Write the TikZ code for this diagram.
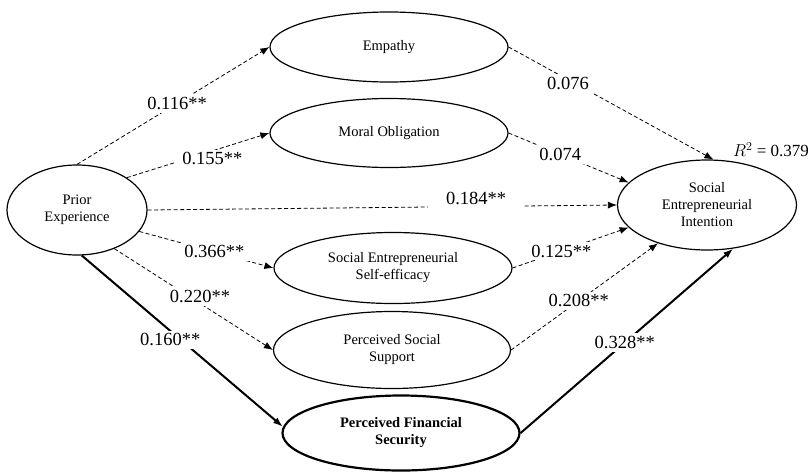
\documentclass[tikz,border=0pt]{standalone}
\usepackage{fontspec}
\setmainfont{Liberation Serif}
\usetikzlibrary{shapes.geometric, arrows.meta}

\begin{document}
\begin{tikzpicture}[x = 1pt, y = -1pt,
  construct/.style = {draw, ellipse, line width = 1.2pt, inner sep = 0pt, align = center,
    font = \fontsize{14.5}{17}\selectfont},
  dasharrow/.style = {-{Latex[length = 9pt, width = 7pt]}, line width = 0.8pt, dash pattern = on 4pt off 2.5pt},
  fullarrow/.style = {-{Latex[length = 10pt, width = 7pt]}, line width = 2pt},
  coef/.style = {fill = white, inner xsep = 7pt, inner ysep = 3pt, font = \fontsize{18.5}{20}\selectfont}]
%\draw [very thin, color = gray] (0, 0) grid[step = 50] (808, 475);
\useasboundingbox (0, 0) rectangle (808, 475);
\node [construct, minimum width = 140, minimum height = 90] (prior) at (77, 210) {Prior\\Experience};
\node [construct, minimum width = 238, minimum height = 70] (emp) at (389, 47) {Empathy};
\node [construct, minimum width = 238, minimum height = 69] (moral) at (389, 133) {Moral Obligation};
\node [construct, minimum width = 238, minimum height = 71] (sese) at (393, 268) {Social Entrepreneurial\\Self-efficacy};
\node [construct, minimum width = 237, minimum height = 77] (pss) at (392, 350) {Perceived Social\\Support};
\node [construct, line width = 2.2pt, minimum width = 237, minimum height = 75] (pfs) at (401, 433)
  {\bfseries Perceived Financial\\\bfseries Security};
\node [construct, minimum width = 179, minimum height = 90] (sei) at (707, 205) {Social\\Entrepreneurial\\Intention};
\node [font = \fontsize{17}{19}\selectfont] (rsq) at (771, 150) {$R^2$ = 0.379};
% paths from prior experience
\draw [dasharrow] (prior.north) -- node [coef, pos = 0.52] {0.116**} (emp.west);
\draw [dasharrow] (prior.33) -- node [coef, pos = 0.6, yshift = -8pt] {0.155**} (moral.west);
\draw [dasharrow] (prior.east) -- node [coef, pos = 0.7, yshift = 8pt, inner xsep = 18pt] {0.184**} (sei.west);
\draw [dasharrow] (prior.-19) -- node [coef, pos = 0.56] {0.366**} (sese.west);
\draw [dasharrow] (prior.-46) -- node [coef, pos = 0.54, yshift = 7pt] {0.220**} (pss.west);
\draw [fullarrow] (prior.-84) -- node [coef, pos = 0.44, yshift = -9pt] {0.160**} (pfs.177);
% paths to intention
\draw [dasharrow] (emp.east) -- node [coef, pos = 0.29, yshift = -4pt, inner xsep = 12pt] {0.076} (sei.82);
\draw [dasharrow] (moral.east) -- node [coef, pos = 0.43, inner xsep = 12pt] {0.074} (sei.164);
\draw [dasharrow] (sese.east) -- node [coef, pos = 0.42] {0.125**} (sei.196);
\draw [dasharrow] (pss.east) -- node [coef, pos = 0.46] {0.208**} (sei.218);
\draw [fullarrow] (pfs.east) -- node [coef, pos = 0.49] {0.328**} (sei.301);
\end{tikzpicture}
\end{document}
